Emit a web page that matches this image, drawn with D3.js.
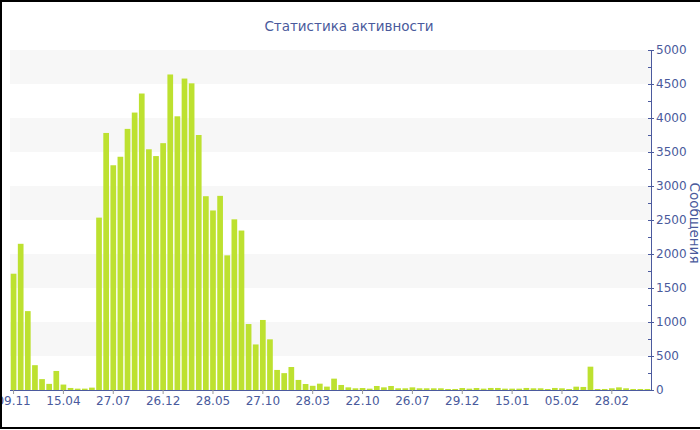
<!DOCTYPE html>
<html>
<head>
<meta charset="utf-8">
<script src="https://cdn.jsdelivr.net/npm/d3@7"></script>
<style>
  body { margin: 0; background: #fff; }
  svg { display: block; font-family: 'DejaVu Sans', sans-serif; }
</style>
</head>
<body>
<svg id="chart" width="700" height="430"></svg>
<script>
// messages per period
const values = [
  1710, 2150, 1160, 365, 160, 90, 280, 80, 30, 20,
  20, 35, 2535, 3780, 3305, 3430, 3840, 4080, 4360, 3540,
  3440, 3630, 4640, 4025, 4580, 4510, 3750, 2850, 2640, 2855,
  1980, 2510, 2345, 970, 670, 1030, 745, 295, 248, 338,
  148, 88, 62, 93, 50, 167, 74, 39, 25, 29,
  20, 59, 39, 59, 25, 25, 39, 25, 25, 25,
  25, 15, 15, 29, 20, 29, 20, 30, 30, 20,
  20, 20, 30, 25, 25, 15, 30, 25, 15, 49,
  45, 343, 15, 15, 25, 39, 25, 15, 15, 15
]
const tickLabels = ['09.11', '15.04', '27.07', '26.12', '28.05', '27.10', '28.03',
  '22.10', '26.07', '29.12', '15.01', '05.02', '28.02']
const tickEvery = 7
const yTicks = [0, 500, 1000, 1500, 2000, 2500, 3000, 3500, 4000, 4500, 5000]
const title = 'Статистика активности'
const yTitle = 'Сообщения'

const axisColor = '#4b5a9e'
const textColor = '#4a5a9c'
const barColor = '#bde130'

const svg = d3.select('#chart')
const plotLeft = 10
const plotRight = 651
const plotTop = 50
const plotBottom = 390

const x = d3.scaleBand()
  .domain(d3.range(values.length))
  .range([plotLeft, plotRight])
  .paddingInner(0.2)
  .paddingOuter(0.1)

const y = d3.scaleLinear().domain([0, 5000]).range([plotBottom, plotTop])

// alternating bands
const bands = d3.range(500, 5000, 1000)
svg.append('g').selectAll('rect')
  .data(bands)
  .join('rect')
  .attr('x', plotLeft)
  .attr('width', plotRight - plotLeft)
  .attr('y', (d) => y(d + 500))
  .attr('height', (d) => y(d) - y(d + 500))
  .attr('fill', '#f7f7f7')

// bars
svg.append('g').selectAll('rect')
  .data(values)
  .join('rect')
  .attr('x', (d, i) => x(i))
  .attr('width', x.bandwidth())
  .attr('y', (d) => y(d))
  .attr('height', (d) => plotBottom - y(d))
  .attr('fill', barColor)

// x axis
const xTickIdx = tickLabels.map((d, i) => i * tickEvery)
const xAxis = svg.append('g')
  .attr('transform', `translate(0,${plotBottom})`)
  .call(d3.axisBottom(x)
    .tickValues(xTickIdx)
    .tickSize(4)
    .tickSizeOuter(0)
    .tickFormat((d) => tickLabels[d / tickEvery]))
xAxis.select('.domain').attr('stroke', axisColor).attr('d', `M${plotLeft},0.5H${plotRight}`)
xAxis.selectAll('.tick line').attr('stroke', '#999')
xAxis.selectAll('.tick text')
  .attr('fill', textColor)
  .attr('font-size', 12)
  .attr('font-family', 'DejaVu Sans')
  .attr('y', 5)
  .attr('dy', '0.85em')

// y axis on the right
const yAxis = svg.append('g')
  .attr('transform', `translate(${plotRight},0)`)
  .call(d3.axisRight(y)
    .tickValues(yTicks)
    .tickSize(3)
    .tickSizeOuter(0)
    .tickPadding(2)
    .tickFormat(d3.format('d')))
yAxis.select('.domain').attr('stroke', axisColor)
yAxis.selectAll('.tick line').attr('stroke', axisColor).attr('x1', -3)
yAxis.selectAll('.tick text')
  .attr('fill', textColor)
  .attr('font-size', 12)
  .attr('font-family', 'DejaVu Sans')

// minor ticks
yAxis.append('g').selectAll('line')
  .data(d3.range(250, 5000, 500))
  .join('line')
  .attr('x1', -3)
  .attr('x2', 0)
  .attr('y1', (d) => Math.round(y(d)) + 0.5)
  .attr('y2', (d) => Math.round(y(d)) + 0.5)
  .attr('stroke', axisColor)

// titles
svg.append('text')
  .attr('x', 349)
  .attr('y', 31)
  .attr('text-anchor', 'middle')
  .attr('font-size', 13.5)
  .attr('fill', textColor)
  .text(title)

svg.append('text')
  .attr('transform', 'translate(690,223) rotate(90)')
  .attr('text-anchor', 'middle')
  .attr('font-size', 13.5)
  .attr('fill', textColor)
  .text(yTitle)

// frame
svg.append('rect')
  .attr('x', 1)
  .attr('y', 1)
  .attr('width', 710)
  .attr('height', 427)
  .attr('fill', 'none')
  .attr('stroke', '#000')
  .attr('stroke-width', 2)
</script>
</body>
</html>
